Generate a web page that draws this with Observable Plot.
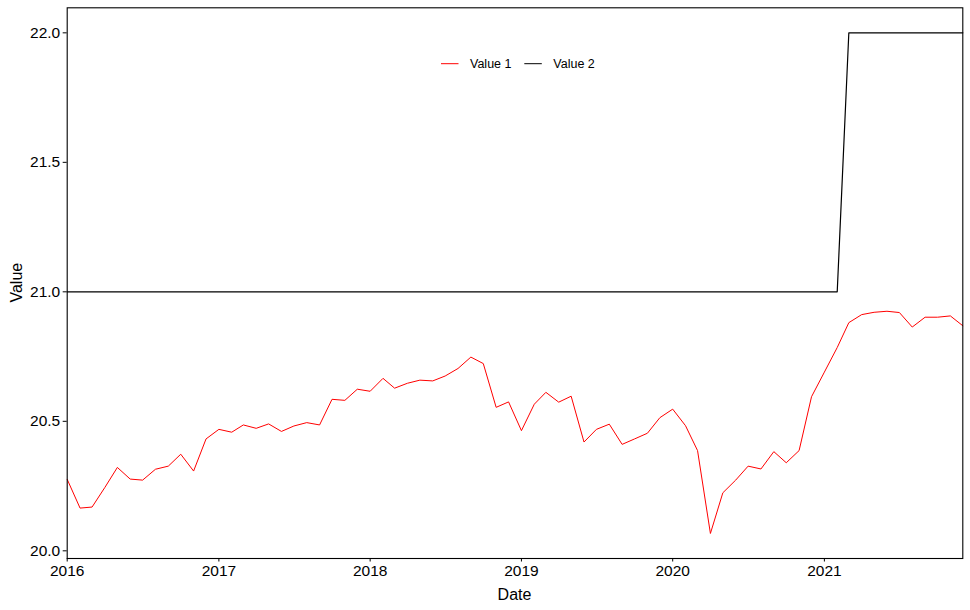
<!DOCTYPE html>
<html><head><meta charset="utf-8">
<script src="https://cdn.jsdelivr.net/npm/d3@7"></script>
<script src="https://cdn.jsdelivr.net/npm/@observablehq/plot@0.6"></script>
<style>
body{margin:0;background:#fff;}
#chart svg{font-family:"Liberation Sans",Arial,sans-serif;color:#000;background:#fff;}
#chart svg g[aria-label$="tick label"] text{font-size:15.5px !important;}
</style>
</head><body><div id="chart"></div>
<script>
const startMonth = "2016-01-01";
const endMonth = "2022-01-01";
const value1 = [
  20.276, 20.165, 20.169, 20.245, 20.322, 20.277, 20.273, 20.315, 20.327, 20.373, 20.308, 20.432,
  20.469, 20.458, 20.486, 20.473, 20.490, 20.461, 20.482, 20.495, 20.486, 20.585, 20.581, 20.624,
  20.616, 20.666, 20.628, 20.647, 20.659, 20.656, 20.675, 20.704, 20.748, 20.723, 20.554, 20.575,
  20.464, 20.566, 20.612, 20.574, 20.597, 20.420, 20.469, 20.489, 20.411, 20.432, 20.454, 20.514,
  20.547, 20.483, 20.387, 20.067, 20.224, 20.273, 20.327, 20.316, 20.383, 20.340, 20.387, 20.595,
  20.690, 20.785, 20.881, 20.912, 20.921, 20.925, 20.920, 20.864, 20.902, 20.902, 20.907, 20.869
];
const value2 = [
  21, 21, 21, 21, 21, 21, 21, 21, 21, 21, 21, 21,
  21, 21, 21, 21, 21, 21, 21, 21, 21, 21, 21, 21,
  21, 21, 21, 21, 21, 21, 21, 21, 21, 21, 21, 21,
  21, 21, 21, 21, 21, 21, 21, 21, 21, 21, 21, 21,
  21, 21, 21, 21, 21, 21, 21, 21, 21, 21, 21, 21,
  21, 21, 22, 22, 22, 22, 22, 22, 22, 22, 22, 22
];
const yTicks = [20.0, 20.5, 21.0, 21.5, 22.0];
const seriesNames = ["Value 1", "Value 2"];
const seriesColors = ["red", "black"];

const dates = d3.utcMonth.range(new Date(startMonth), new Date(endMonth));
const data = dates.map((d, i) => ({date: d, v1: value1[i], v2: value2[i]}));

const yMin = d3.min([...value1, ...value2]);
const yMax = d3.max([...value1, ...value2]);
const pad = (yMax - yMin) * 0.05;

const W = 970, H = 610;
const mL = 66.7, mR = 7.7, mT = 7.3, mB = 52;

const chart = Plot.plot({
  width: W, height: H,
  marginLeft: mL, marginRight: mR, marginTop: mT, marginBottom: mB,
  style: {fontSize: "15px", fontFamily: "'Liberation Sans', Arial, sans-serif", color: "black", background: "white"},
  x: {type: "utc", domain: [dates[0], dates[dates.length - 1]]},
  y: {domain: [yMin - pad, yMax + pad]},
  marks: [
    Plot.line(data, {x: "date", y: "v1", stroke: seriesColors[0], strokeWidth: 1}),
    Plot.line(data, {x: "date", y: "v2", stroke: seriesColors[1], strokeWidth: 1.2}),
    Plot.frame({stroke: "black", strokeWidth: 1.1}),
    Plot.axisX({ticks: d3.utcYear.every(1), tickFormat: "%Y", tickSize: 3.5, tickPadding: 3, fontSize: 15.5, label: null, fill: "black"}),
    Plot.axisY({ticks: yTicks, tickFormat: d3.format(".1f"), tickSize: 4, tickPadding: 3, fontSize: 15.5, label: null, fill: "black"})
  ]
});
document.getElementById("chart").appendChild(chart);

const svg = d3.select(chart);
svg.append("text").attr("x", (mL + W - mR) / 2).attr("y", 599.5)
  .attr("text-anchor", "middle").attr("font-size", 16).attr("fill", "black").text("Date");
svg.append("text").attr("transform", `translate(22,${(mT + H - mB) / 2}) rotate(-90)`)
  .attr("text-anchor", "middle").attr("font-size", 16).attr("fill", "black").text("Value");

const leg = svg.append("g");
const legX = [441, 524.3];
seriesNames.forEach((name, i) => {
  leg.append("line").attr("x1", legX[i]).attr("x2", legX[i] + 17.5)
    .attr("y1", 63.7).attr("y2", 63.7).attr("stroke", seriesColors[i]).attr("stroke-width", 1);
  leg.append("text").attr("x", legX[i] + 29).attr("y", 68.3)
    .attr("text-anchor", "start")
    .attr("font-size", 12.5).attr("fill", "black").text(name);
});
</script>
</body></html>
